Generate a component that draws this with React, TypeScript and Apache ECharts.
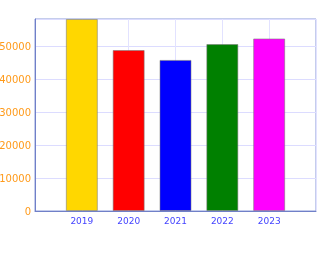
import React, { useEffect, useRef } from "react";
import * as echarts from "echarts";

const categories = ["2019", "2020", "2021", "2022", "2023"];
const values = [58200, 48800, 45800, 50600, 52300];
const barColors = ["#ffd700", "#ff0000", "#0000ff", "#008000", "#ff00ff"];
const yTicks = [0, 10000, 20000, 30000, 40000, 50000];

export default function App() {
  const ref = useRef<HTMLDivElement>(null);
  useEffect(() => {
    if (!ref.current) return;
    const chart = echarts.init(ref.current, null, { renderer: "svg" });
    const padded = ["", ...categories, ""];
    const data = [
      null,
      ...values.map((v, i) => ({ value: v, itemStyle: { color: barColors[i] } })),
      null,
    ];
    chart.setOption({
      animation: false,
      grid: {
        left: 35,
        top: 19,
        right: 4,
        bottom: 58,
        containLabel: false,
        outerBoundsMode: "none",
        show: true,
        borderColor: "#8a9ad8",
        borderWidth: 1,
        backgroundColor: "transparent",
      },
      xAxis: {
        type: "category",
        data: padded,
        boundaryGap: false,
        axisLine: { lineStyle: { color: "#7080c8", width: 1 } },
        axisTick: { show: false },
        axisLabel: {
          color: "#4444ff",
          fontSize: 9,
          fontFamily: "DejaVu Sans",
          margin: 5,
        },
        splitLine: { show: true, lineStyle: { color: "#e2e2ff", width: 1 } },
      },
      yAxis: {
        type: "value",
        min: yTicks[0],
        max: 58200,
        interval: yTicks[1] - yTicks[0],
        axisLine: { show: true, lineStyle: { color: "#7080c8", width: 1 } },
        axisTick: { show: false },
        axisLabel: {
          color: "#ff9a1a",
          fontSize: 10,
          fontFamily: "DejaVu Sans",
          margin: 4,
          showMaxLabel: false,
          formatter: (v: number) => String(v),
        },
        splitLine: { show: true, lineStyle: { color: "#dcdcff", width: 1 } },
      },
      series: [
        {
          type: "bar",
          data,
          barWidth: 32,
          itemStyle: { borderColor: "rgba(120,120,120,0.55)", borderWidth: 1 },
        },
      ],
    });
    return () => chart.dispose();
  }, []);
  return (
    <div
      ref={ref}
      style={{ position: "fixed", left: 0, top: 0, width: 320, height: 269 }}
    />
  );
}
